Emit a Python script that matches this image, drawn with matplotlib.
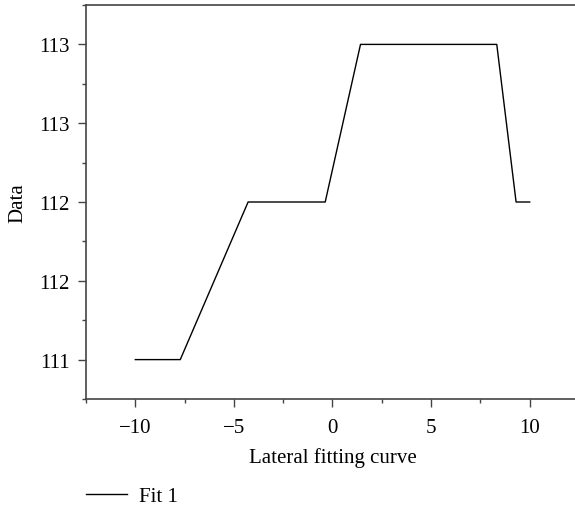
import numpy as np
import matplotlib.pyplot as plt
from matplotlib.ticker import MultipleLocator

# values
x_fit = [-10.0, -7.72, -4.28, -0.37, 1.42, 8.33, 9.31, 10.0]
y_fit = [111.0, 111.0, 112.0, 112.0, 113.0, 113.0, 112.0, 112.0]
y_ticks = [111.0, 111.5, 112.0, 112.5, 113.0]
y_tick_labels = ['111', '112', '112', '113', '113']
x_ticks = [-10, -5, 0, 5, 10]

plt.rcParams['font.family'] = ['Liberation Serif', 'DejaVu Serif']
plt.rcParams['font.size'] = 15

fig = plt.figure(figsize=(5.75, 5.06), dpi=100)
ax = fig.add_axes([86 / 575, 1 - 400 / 506, 493 / 575, 394 / 506])

ln, = ax.plot(x_fit, y_fit, color='black', lw=1.0, label='Fit 1')

ax.set_xlim(-12.5, 12.5)
ax.set_ylim(110.75, 113.25)
ax.set_xticks(x_ticks)
ax.set_xticklabels(['\u221210', '\u22125', '0', '5', '10'])
ax.set_yticks(y_ticks)
ax.set_yticklabels(y_tick_labels)
ax.xaxis.set_minor_locator(MultipleLocator(2.5))
ax.yaxis.set_minor_locator(MultipleLocator(0.25))

for s in ['left', 'bottom', 'top']:
    ax.spines[s].set_color('#444444')
    ax.spines[s].set_linewidth(1.2)
ax.spines['right'].set_visible(False)

ax.tick_params(which='major', direction='out', length=6, width=1.0, color='#444444')
ax.tick_params(which='minor', direction='out', length=3, width=1.0, color='#444444')
ax.tick_params(axis='x', pad=8)
ax.tick_params(axis='y', pad=6)

ax.set_xlabel('Lateral fitting curve', labelpad=7)
ax.set_ylabel('Data', labelpad=8)

fig.legend(handles=[ln], loc='lower left', bbox_to_anchor=(67 / 575, -20 / 506),
           frameon=False, handlelength=2.0, handletextpad=0.55)

fig.savefig('out.png', dpi=100)
